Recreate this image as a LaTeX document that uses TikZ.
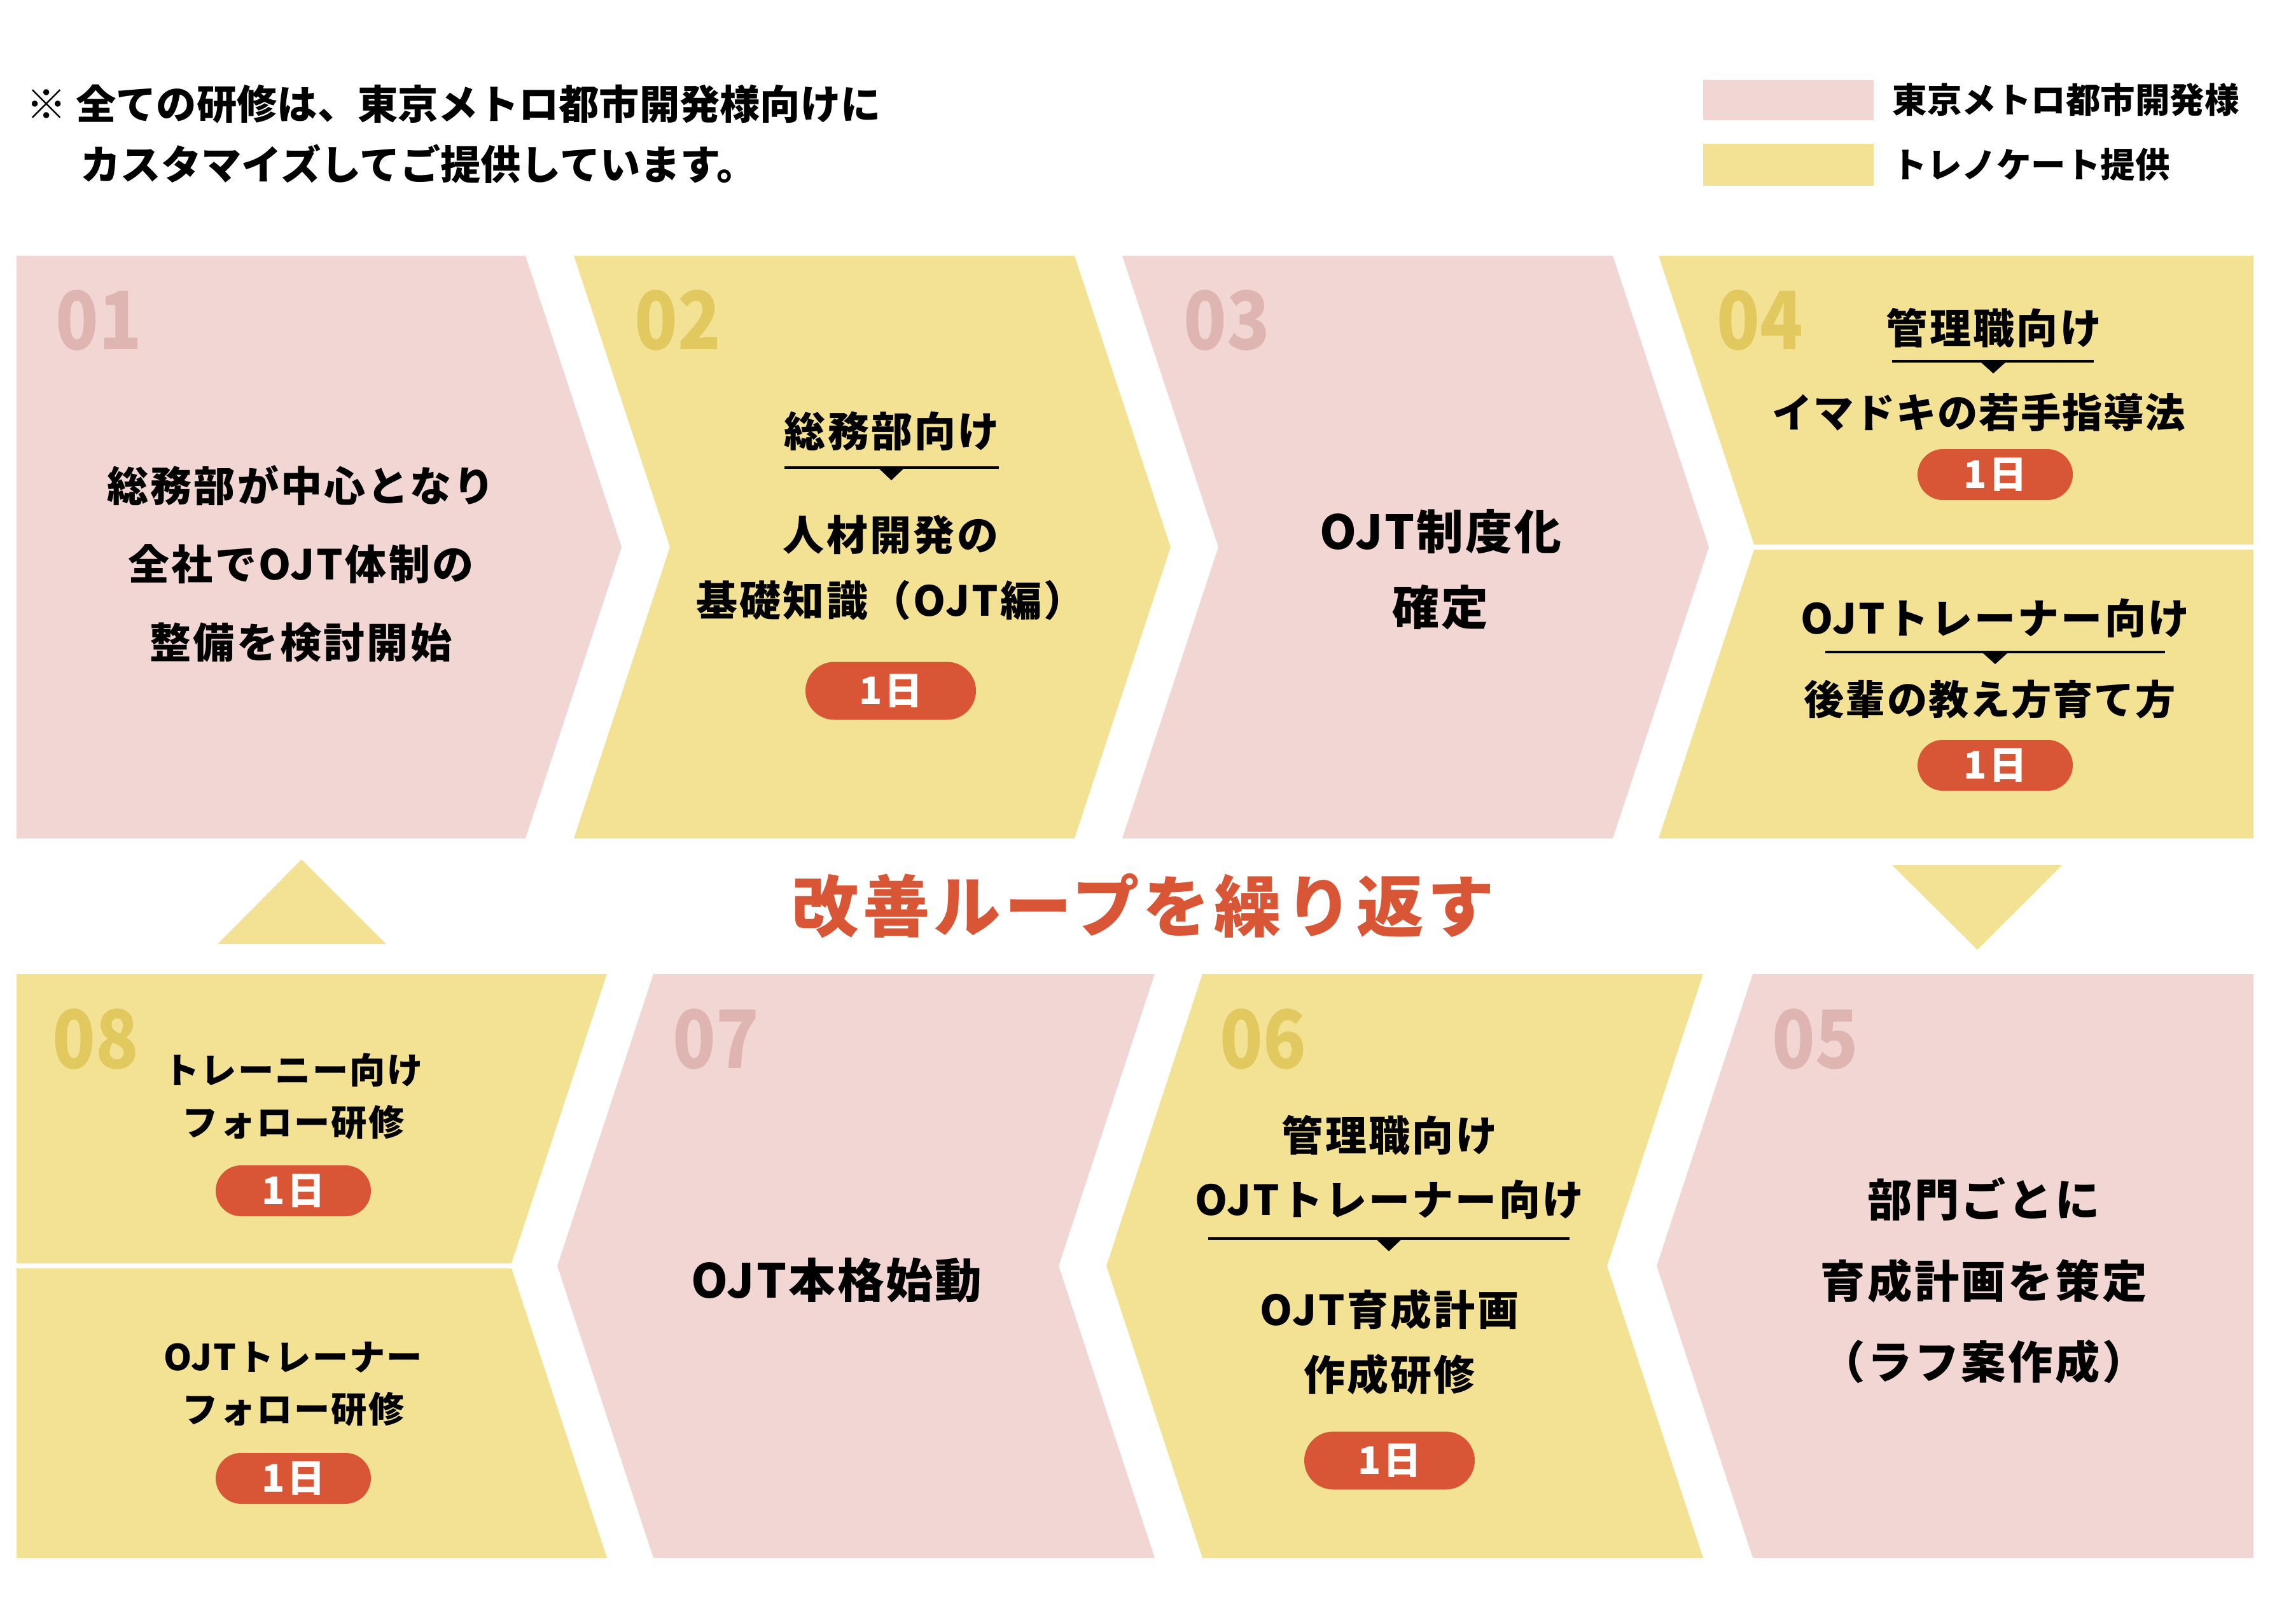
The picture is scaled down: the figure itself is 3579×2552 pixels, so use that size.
\documentclass[tikz,border=0pt]{standalone}
\usepackage{fontspec}
\setmainfont{Noto Sans CJK JP}
\usepackage{tikz}
\usetikzlibrary{positioning}

\definecolor{metropink}{HTML}{F1D6D3}
\definecolor{trainyellow}{HTML}{F3E293}
\definecolor{pinknum}{HTML}{DFB5B1}
\definecolor{yellownum}{HTML}{E1C95F}
\definecolor{dayred}{HTML}{D85535}
\newcommand{\spaced}[1]{\addfontfeatures{LetterSpace=#1}}

\begin{document}
\begin{tikzpicture}[
  x=0.1mm, y=-0.1mm,
  every node/.style={inner sep=0pt},
  pinkbox/.style={fill=metropink},
  yellowbox/.style={fill=trainyellow},
  stepno/.style={anchor=west, font=\bfseries\addfontfeatures{FakeStretch=0.88}\fontsize{36}{36}\selectfont},
  body/.style={align=center, font=\bfseries\spaced{5}\fontsize{18.5}{35}\selectfont},
  bigbody/.style={align=center, font=\bfseries\spaced{4}\fontsize{21}{34}\selectfont},
  smallbody/.style={align=center, font=\bfseries\spaced{4}\fontsize{16}{23.3}\selectfont},
  days/.style={fill=dayred, text=white, minimum width=24.4mm, minimum height=8.0mm,
               rounded corners=4mm, font=\bfseries\spaced{6}\fontsize{17}{17}\selectfont},
  bigdays/.style={days, minimum width=26.8mm, minimum height=9.1mm, rounded corners=4.55mm},
  rule/.style={line width=1.4pt},
  legend/.style={anchor=west, font=\bfseries\fontsize{15.5}{15.5}\selectfont},
]
\useasboundingbox (0,0) rectangle (3579,2552);

% note and legend
\node[anchor=west, font=\bfseries\fontsize{18}{18}\selectfont] (note1) at (41,164) {※ 全ての研修は、東京メトロ都市開発様向けに};
\node[anchor=west, font=\bfseries\fontsize{18}{18}\selectfont] (note2) at (126,258) {カスタマイズしてご提供しています。};
\fill[pinkbox] (2677,126) rectangle (2945,189);
\fill[yellowbox] (2677,226) rectangle (2945,292);
\node[legend] (legmetro) at (2974,157) {東京メトロ都市開発様};
\node[legend] (legtrain) at (2974,259) {トレノケート提供};

% top row
\fill[pinkbox] (26,402) -- (826,402) -- (977,860) -- (826,1318) -- (26,1318) -- cycle;
\fill[yellowbox] (902,402) -- (1689,402) -- (1840,860) -- (1689,1318) -- (902,1318) -- (1053,860) -- cycle;
\fill[pinkbox] (1764,402) -- (2535,402) -- (2686,860) -- (2535,1318) -- (1764,1318) -- (1915,860) -- cycle;
\fill[yellowbox] (2607,402) -- (3542,402) -- (3542,856) -- (2757,856) -- cycle;
\fill[yellowbox] (2757,864) -- (3542,864) -- (3542,1318) -- (2607,1318) -- cycle;

% bottom row
\fill[yellowbox] (26,1531) -- (954,1531) -- (804,1986) -- (26,1986) -- cycle;
\fill[yellowbox] (26,1994) -- (804,1994) -- (954,2449) -- (26,2449) -- cycle;
\fill[pinkbox] (1027,1531) -- (1815,1531) -- (1664,1990) -- (1815,2449) -- (1027,2449) -- (876,1990) -- cycle;
\fill[yellowbox] (1890,1531) -- (2677,1531) -- (2526,1990) -- (2677,2449) -- (1890,2449) -- (1739,1990) -- cycle;
\fill[pinkbox] (2755,1531) -- (3542,1531) -- (3542,2449) -- (2755,2449) -- (2604,1990) -- cycle;

% loop marks
\fill[yellowbox] (342,1484) -- (474,1351) -- (607,1484) -- cycle;
\fill[yellowbox] (2974,1360) -- (3241,1360) -- (3108,1493) -- cycle;
\node[font=\bfseries\spaced{6}\fontsize{30}{30}\selectfont, text=dayred] (loop) at (1797,1424) {改善ループを繰り返す};

% step numbers
\node[stepno, text=pinknum] (n01) at (87,504) {01};
\node[stepno, text=yellownum] (n02) at (997,504) {02};
\node[stepno, text=pinknum] (n03) at (1860,504) {03};
\node[stepno, text=yellownum] (n04) at (2698,504) {04};
\node[stepno, text=yellownum] (n08) at (82,1634) {08};
\node[stepno, text=pinknum] (n07) at (1057,1634) {07};
\node[stepno, text=yellownum] (n06) at (1917,1634) {06};
\node[stepno, text=pinknum] (n05) at (2785,1634) {05};

% 01
\node[body] (s01) at (473,886) {総務部が中心となり\\全社でOJT体制の\\整備を検討開始};

% 02
\node[body] (s02head) at (1402,678) {総務部向け};
\draw[rule] (1233,735) -- (1570,735);
\fill (1381,736) -- (1421,736) -- (1401,755) -- cycle;
\node[body, font=\bfseries\spaced{5}\fontsize{18.5}{29.3}\selectfont] (s02) at (1400,893) {人材開発の\\基礎知識（OJT編）};
\node[bigdays] (d02) at (1400,1086) {1日};

% 03
\node[bigbody] (s03) at (2264,895) {OJT制度化\\確定};

% 04
\node[body] (s04ahead) at (3134,516) {管理職向け};
\draw[rule] (2974,568) -- (3291,568);
\fill (3113,569) -- (3153,569) -- (3133,587) -- cycle;
\node[body, font=\bfseries\spaced{3}\fontsize{18}{18}\selectfont] (s04a) at (3110,648) {イマドキの若手指導法};
\node[days] (d04a) at (3136,746) {1日};
\node[body] (s04bhead) at (3136,972) {OJTトレーナー向け};
\draw[rule] (2869,1025) -- (3403,1025);
\fill (3116,1026) -- (3156,1026) -- (3136,1044) -- cycle;
\node[body, font=\bfseries\spaced{3}\fontsize{18}{18}\selectfont] (s04b) at (3128,1100) {後輩の教え方育て方};
\node[days] (d04b) at (3136,1203) {1日};

% 05
\node[bigbody, font=\bfseries\spaced{5}\fontsize{20}{36.4}\selectfont] (s05) at (3118,2013) {部門ごとに\\育成計画を策定\\（ラフ案作成）};

% 06
\node[body, font=\bfseries\spaced{5}\fontsize{18.5}{28.5}\selectfont] (s06head) at (2184,1835) {管理職向け\\OJTトレーナー向け};
\draw[rule] (1899,1947) -- (2467,1947);
\fill (2163,1948) -- (2203,1948) -- (2183,1967) -- cycle;
\node[body, font=\bfseries\spaced{5}\fontsize{18.5}{29}\selectfont] (s06) at (2184,2110) {OJT育成計画\\作成研修};
\node[bigdays] (d06) at (2184,2296) {1日};

% 07
\node[bigbody] (s07) at (1315,2013) {OJT本格始動};

% 08
\node[smallbody] (s08a) at (461,1723) {トレーニー向け\\フォロー研修};
\node[days] (d08a) at (461,1872) {1日};
\node[smallbody] (s08b) at (461,2176) {OJTトレーナー\\フォロー研修};
\node[days] (d08b) at (461,2324) {1日};
\end{tikzpicture}
\end{document}
